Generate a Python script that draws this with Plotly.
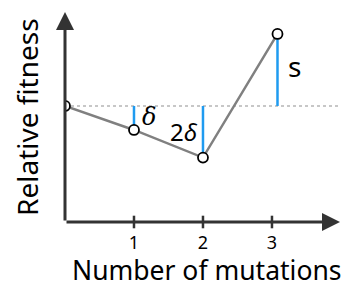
import plotly.graph_objects as go

# Data
mutations = [0, 1, 2, 3.08]
fitness = [1.0, 0.80, 0.57, 1.60]
baseline = 1.0
tick_vals = [1, 2, 3]
tick_text = ["1", "2", "3"]
x_range = [0, 3.986]
y_range = [0.033, 1.783]

BLUE = "#1f9bf0"
AX = "#333333"
FONT = "Noto Sans"

fig = go.Figure()

# baseline dotted
fig.add_trace(go.Scatter(x=[0, x_range[1]], y=[baseline, baseline], mode="lines",
                         line=dict(color="#b5b5b5", width=1.5, dash="dot"),
                         hoverinfo="skip", showlegend=False))
# blue differences
for xv, yv in zip(mutations[1:], fitness[1:]):
    fig.add_trace(go.Scatter(x=[xv, xv], y=[baseline, yv], mode="lines",
                             line=dict(color=BLUE, width=2.5),
                             hoverinfo="skip", showlegend=False))
# fitness path
fig.add_trace(go.Scatter(x=mutations, y=fitness, mode="lines+markers",
                         line=dict(color="#808080", width=2.5),
                         marker=dict(size=10, color="white", line=dict(color="black", width=1.8)),
                         showlegend=False))

shapes = []
for t in tick_vals:
    shapes.append(dict(type="line", xref="x", yref="paper", x0=t, x1=t, y0=-0.03, y1=0.03,
                       line=dict(color=AX, width=2.5)))

annotations = [
    # y axis arrow
    dict(x=0, y=y_range[1], ax=0, ay=y_range[0], xref="x", yref="y", axref="x", ayref="y",
         text="", showarrow=True, arrowhead=2, arrowsize=1.2, arrowwidth=3, arrowcolor=AX),
    # x axis arrow
    dict(x=x_range[1], y=y_range[0], ax=0, ay=y_range[0], xref="x", yref="y", axref="x", ayref="y",
         text="", showarrow=True, arrowhead=2, arrowsize=1.2, arrowwidth=3, arrowcolor=AX),
    dict(x=mutations[1] + 0.08, y=(baseline + fitness[1]) / 2 + 0.01, xref="x", yref="y",
         text="<i>δ</i>", showarrow=False, xanchor="left", font=dict(family="DejaVu Serif", size=24, color="black")),
    dict(x=mutations[2] - 0.04, y=fitness[2] + 0.22, xref="x", yref="y",
         text="2<i>δ</i>", showarrow=False, xanchor="right", font=dict(family=FONT, size=24, color="black")),
    dict(x=mutations[3] + 0.12, y=(baseline + fitness[3]) / 2 + 0.03, xref="x", yref="y",
         text="s", showarrow=False, xanchor="left", font=dict(family=FONT, size=28, color="black")),
    dict(x=(27 - 65) / 275, y=0.5, xref="paper", yref="paper", text="Relative fitness", textangle=-90,
         showarrow=False, xanchor="center", yanchor="middle",
         font=dict(family=FONT, size=28, color="black")),
    dict(x=(207 - 65) / 275, y=(222 - 270) / 210, xref="paper", yref="paper", text="Number of mutations",
         showarrow=False, xanchor="center", yanchor="middle",
         font=dict(family=FONT, size=26.5, color="black")),
]

fig.update_layout(
    width=356, height=290,
    margin=dict(l=65, r=16, t=12, b=68, autoexpand=False),
    paper_bgcolor="white", plot_bgcolor="white",
    xaxis=dict(range=x_range, showgrid=False, zeroline=False, showline=False,
               tickvals=tick_vals, ticktext=tick_text, ticks="", ticklabelstandoff=8,
               tickfont=dict(family=FONT, size=18, color="black")),
    yaxis=dict(range=y_range, showgrid=False, zeroline=False, showline=False,
               showticklabels=False, ticks=""),
    shapes=shapes, annotations=annotations,
)

fig.write_html("out.html", config={"displayModeBar": False},
               post_script="document.body.style.margin='0';")
